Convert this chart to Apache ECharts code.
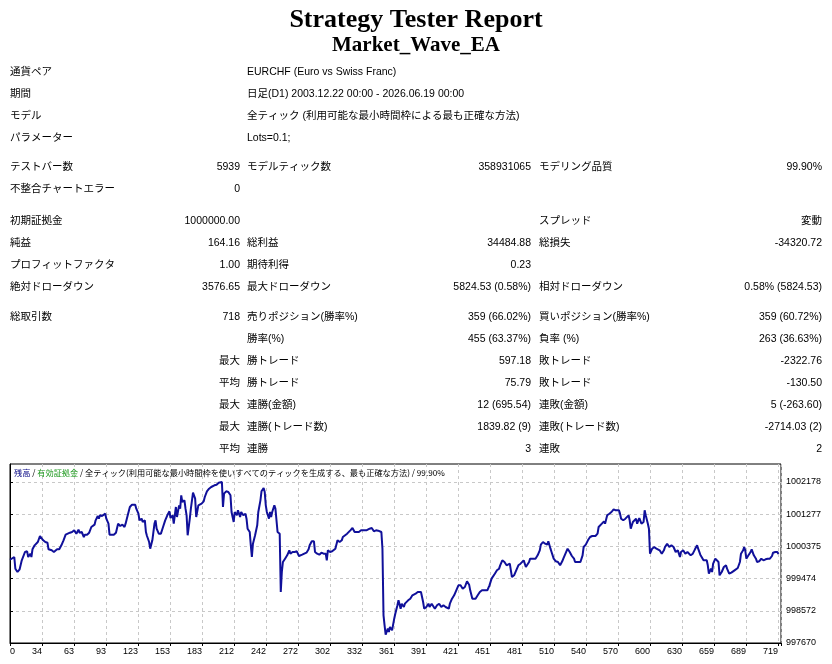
<!DOCTYPE html>
<html>
<head>
<meta charset="utf-8">
<title>Strategy Tester Report</title>
<script src="https://cdn.jsdelivr.net/npm/echarts@6/dist/echarts.min.js"></script>
<style>
html, body { margin: 0; padding: 0; background: #fff; }
#chart { width: 832px; height: 664px; }
</style>
</head>
<body>
<div id="chart"></div>
<script>
// report header
const reportTitle = 'Strategy Tester Report';
const expertName = 'Market_Wave_EA';

const infoRows = [
    ['通貨ペア', 'EURCHF (Euro vs Swiss Franc)'],
    ['期間', '日足(D1) 2003.12.22 00:00 - 2026.06.19 00:00'],
    ['モデル', '全ティック (利用可能な最小時間枠による最も正確な方法)'],
    ['パラメーター', 'Lots=0.1;']
];

// label, value, label, value, label, value
const statRows = [
    ['テストバー数', '5939', 'モデルティック数', '358931065', 'モデリング品質', '99.90%'],
    ['不整合チャートエラー', '0', '', '', '', ''],
    ['初期証拠金', '1000000.00', '', '', 'スプレッド', '変動'],
    ['純益', '164.16', '総利益', '34484.88', '総損失', '-34320.72'],
    ['プロフィットファクタ', '1.00', '期待利得', '0.23', '', ''],
    ['絶対ドローダウン', '3576.65', '最大ドローダウン', '5824.53 (0.58%)', '相対ドローダウン', '0.58% (5824.53)'],
    ['総取引数', '718', '売りポジション(勝率%)', '359 (66.02%)', '買いポジション(勝率%)', '359 (60.72%)'],
    ['', '', '勝率(%)', '455 (63.37%)', '負率 (%)', '263 (36.63%)'],
    ['', '最大', '勝トレード', '597.18', '敗トレード', '-2322.76'],
    ['', '平均', '勝トレード', '75.79', '敗トレード', '-130.50'],
    ['', '最大', '連勝(金額)', '12 (695.54)', '連敗(金額)', '5 (-263.60)'],
    ['', '最大', '連勝(トレード数)', '1839.82 (9)', '連敗(トレード数)', '-2714.03 (2)'],
    ['', '平均', '連勝', '3', '連敗', '2']
];

// chart caption
const captionBalance = '残高';
const captionEquity = '有効証拠金';
const captionRest = '全ティック(利用可能な最小時間枠を使いすべてのティックを生成する、最も正確な方法) / 99.90%';

// axes
const xTickLabels = ['0', '34', '63', '93', '123', '153', '183', '212', '242', '272', '302', '332', '361',
    '391', '421', '451', '481', '510', '540', '570', '600', '630', '659', '689', '719'];
const yTickValues = [997670, 998572, 999474, 1000375, 1001277, 1002178];

// balance curve (trade number, balance)
const trades = [
    0, 4, 5, 7, 9, 11, 12, 14, 16, 17, 19, 20, 21, 23, 26, 28, 29, 31, 33, 35,
    36, 39, 41, 42, 44, 46, 48, 50, 52, 54, 56, 58, 60, 62, 64, 65, 67, 69, 70, 72,
    74, 76, 79, 80, 82, 83, 84, 86, 89, 90, 92, 93, 95, 97, 99, 101, 103, 105, 107, 108,
    110, 112, 114, 117, 118, 120, 121, 123, 124, 126, 127, 128, 130, 131, 133, 135, 136, 137, 139, 141,
    143, 145, 147, 149, 150, 152, 153, 155, 156, 158, 159, 160, 161, 163, 164, 165, 166, 168, 169, 170,
    171, 173, 174, 176, 177, 179, 181, 182, 184, 186, 188, 191, 193, 195, 196, 198, 199, 200, 202, 204,
    206, 207, 209, 210, 212, 213, 215, 216, 218, 220, 221, 222, 224, 225, 226, 227, 229, 231, 232, 234,
    235, 237, 238, 239, 240, 242, 243, 244, 245, 247, 248, 249, 250, 252, 253, 254, 255, 257, 259, 261,
    262, 264, 266, 268, 270, 273, 274, 277, 279, 280, 282, 284, 285, 287, 289, 291, 293, 295, 296, 297,
    299, 301, 302, 304, 306, 308, 310, 311, 315, 318, 320, 322, 323, 326, 328, 330, 333, 336, 338, 340,
    342, 344, 347, 348, 349, 350, 351, 353, 354, 355, 357, 359, 360, 362, 363, 365, 366, 368, 369, 372,
    374, 376, 379, 381, 384, 386, 387, 389, 391, 392, 394, 397, 399, 401, 403, 405, 407, 410, 411, 413,
    415, 417, 419, 421, 423, 425, 427, 429, 430, 432, 433, 435, 437, 439, 441, 443, 444, 446, 448, 450,
    453, 455, 457, 458, 460, 462, 464, 467, 468, 469, 471, 473, 475, 477, 478, 480, 482, 483, 485, 486,
    488, 489, 491, 493, 495, 496, 498, 500, 502, 503, 505, 506, 508, 510, 512, 514, 516, 517, 519, 521,
    523, 525, 527, 528, 530, 533, 535, 536, 538, 540, 542, 544, 547, 549, 550, 553, 555, 556, 558, 560,
    562, 564, 566, 569, 570, 571, 573, 575, 576, 578, 579, 580, 582, 583, 585, 586, 588, 590, 592, 593,
    594, 596, 597, 598, 600, 602, 604, 607, 609, 611, 612, 614, 616, 618, 620, 622, 624, 625, 626, 627,
    629, 631, 633, 636, 638, 640, 642, 643, 645, 646, 648, 649, 651, 652, 653, 655, 656, 657, 659, 660,
    662, 663, 664, 665, 667, 669, 670, 672, 674, 675, 677, 678, 680, 682, 683, 685, 686, 687, 688, 690,
    692, 693, 695, 697, 698, 700, 702, 704, 706, 708, 710, 712, 713, 715, 717, 718
];
const balance = [
    1000000, 1000078, 999751, 999658, 999733, 999985, 1000031, 1000218, 1000237, 1000078,
    1000171, 1000078, 1000293, 1000405, 1000498, 1000666, 1000685, 1000545, 1000498, 1000479,
    1000293, 1000265, 1000218, 1000171, 1000293, 1000293, 1000405, 1000545, 1000703, 1000731,
    1000759, 1000778, 1000825, 1000731, 1000843, 1000759, 1000778, 1000638, 1000703, 1000703,
    1000759, 1000918, 1000983, 1001105, 1001226, 1001151, 1001245, 1001226, 1001291, 1001151,
    1001011, 1000703, 1000703, 1000703, 1000759, 1001011, 1000946, 1000983, 1000918, 1001011,
    1001245, 1001478, 1001543, 1001543, 1001431, 1001291, 1001105, 1001151, 1001058, 1001105,
    1000778, 1000666, 1000498, 1000311, 1000545, 1001011, 1001105, 1000871, 1000731, 1000731,
    1000918, 1001105, 1001245, 1001357, 1001170, 1001245, 1001011, 1001478, 1001198, 1001525,
    1001431, 1001805, 1001618, 1001665, 1001431, 1001245, 1000685, 1001151, 1001431, 1001385,
    1001879, 1001711, 1001198, 1001525, 1001478, 1001571, 1001637, 1001758, 1001917, 1001991,
    1002038, 1002085, 1002103, 1002159, 1002159, 1002178, 1001478, 1001851, 1001917, 1001898,
    1001805, 1001338, 1001058, 1001338, 1001245, 1001385, 1001198, 1001338, 1001245, 1001291,
    1001151, 1000871, 1000778, 1000405, 1000078, 1000451, 1000685, 1000965, 1001338, 1001665,
    1001917, 1002010, 1001898, 1001525, 1001338, 1001151, 1001338, 1001198, 1001338, 1001525,
    1001431, 1001385, 1000778, 1000731, 999098, 999658, 999938, 1000031, 1000125, 1000265,
    1000171, 1000218, 1000218, 1000237, 1000106, 1000143, 1000171, 1000199, 1000293, 1000405,
    1000517, 1000517, 1000218, 1000171, 1000143, 1000199, 1000171, 1000171, 999985, 1000265,
    1000218, 1000237, 1000265, 1000311, 1000545, 1000498, 1000545, 1000638, 1000731, 1000825,
    1000890, 1000778, 1000825, 1000778, 1000825, 1000825, 1000825, 1000871, 1000890, 1000797,
    1000825, 1000815, 1000778, 1000311, 998445, 998165, 997904, 998071, 997978, 998118,
    998025, 998351, 998491, 998725, 998865, 998631, 998771, 998678, 998771, 998865,
    998911, 999005, 999051, 999098, 999098, 998818, 998631, 998678, 998771, 998678,
    998771, 998631, 998725, 998771, 998678, 998725, 998678, 998631, 998771, 998911,
    999005, 999145, 999285, 999285, 999191, 999238, 999397, 999303, 999145, 998911,
    998865, 998911, 999005, 999098, 999145, 999145, 999098, 999145, 999285, 999472,
    999611, 999705, 999751, 999845, 999985, 999938, 999845, 999891, 999705, 999518,
    999565, 999705, 999845, 999891, 999938, 999985, 999798, 999751, 999938, 1000031,
    1000031, 1000078, 1000031, 1000125, 1000265, 1000423, 1000498, 1000451, 1000423, 1000517,
    1000311, 1000218, 1000031, 999957, 999938, 999845, 999957, 1000031, 1000171, 1000311,
    1000218, 1000106, 1000031, 999938, 999938, 999938, 1000125, 1000358, 1000423, 1000545,
    1000638, 1000666, 1000666, 1000731, 1000918, 1001011, 1001077, 1001011, 1001245, 1001291,
    1001338, 1001413, 1001385, 1001385, 1001291, 1001151, 1001105, 1001151, 1001198, 1001245,
    1001105, 1000871, 1001058, 1001011, 1001151, 1001011, 1001170, 1001011, 1001058, 1001385,
    1001245, 1001011, 1000871, 1000171, 1000311, 1000358, 1000311, 1000265, 1000171, 1000265,
    1000358, 1000451, 1000358, 1000405, 1000358, 1000218, 1000265, 1000171, 1000078, 1000218,
    1000265, 1000171, 1000218, 1000125, 1000171, 1000293, 1000405, 1000311, 1000143, 1000125,
    999985, 1000031, 999985, 999845, 999611, 999751, 999658, 999891, 1000031, 1000078,
    999938, 999565, 999518, 999658, 999798, 999845, 999751, 999611, 999639, 999611,
    999705, 999733, 999770, 999938, 1000171, 1000265, 1000358, 1000265, 1000031, 1000125,
    1000218, 1000293, 1000125, 1000031, 999938, 999957, 1000031, 999985, 1000013, 1000031,
    1000031, 1000106, 1000199, 1000218, 1000218, 1000164
];

// layout
const FONT = '"Liberation Sans", "Noto Sans CJK JP", sans-serif';
const CJK = '"Noto Sans CJK JP", "Liberation Sans", sans-serif';
const infoY = [72, 94, 116, 138];
const statY = [167, 189, 221, 243, 265, 287, 317, 339, 361, 383, 405, 427, 449];
const statCols = [[10, 'left'], [240, 'right'], [247, 'left'], [531, 'right'], [539, 'left'], [822, 'right']];

let graphic = [];

function addText(text, x, y, align, style) {
    graphic.push({
        type: 'text',
        x: x,
        y: y,
        silent: true,
        style: Object.assign({
            text: text,
            fontFamily: FONT,
            fontSize: 10.5,
            fill: '#000',
            align: align,
            verticalAlign: 'middle'
        }, style || {})
    });
}

addText(reportTitle, 416, 20, 'center', {fontFamily: '"Liberation Serif", serif', fontWeight: 'bold', fontSize: 26});
addText(expertName, 416, 46, 'center', {fontFamily: '"Liberation Serif", serif', fontWeight: 'bold', fontSize: 21});

infoRows.forEach((row, i) => {
    addText(row[0], 10, infoY[i], 'left');
    addText(row[1], 247, infoY[i], 'left');
});

statRows.forEach((row, i) => {
    row.forEach((cell, j) => {
        if (cell) addText(cell, statCols[j][0], statY[i], statCols[j][1]);
    });
});

// caption inside the plot
graphic.push({
    type: 'text',
    x: 14,
    y: 473,
    silent: true,
    z: 10,
    style: {
        text: '{b|' + captionBalance + '}{s| / }{g|' + captionEquity + '}{s| / ' + captionRest + '}',
        fontFamily: CJK,
        fontSize: 8.2,
        verticalAlign: 'middle',
        rich: {
            b: {fill: '#000080', fontFamily: CJK, fontSize: 8.2},
            g: {fill: '#1f9a1f', fontFamily: CJK, fontSize: 8.2},
            s: {fill: '#000', fontFamily: CJK, fontSize: 8.2}
        }
    }
});

const seriesData = trades.map((t, i) => [t, balance[i]]);

const gridLine = {show: true, lineStyle: {color: '#c8c8c8', type: [3, 3], width: 1}};

const option = {
    animation: false,
    backgroundColor: '#fff',
    graphic: graphic,
    grid: {
        left: 10,
        right: 51,
        top: 464,
        bottom: 21,
        show: true,
        borderColor: '#000',
        borderWidth: 1
    },
    xAxis: {
        type: 'value',
        min: 0,
        max: 720.4,
        interval: 29.9,
        axisLine: {show: true, lineStyle: {color: '#000', width: 1}},
        axisTick: {show: true, length: 3, lineStyle: {color: '#000'}},
        splitLine: gridLine,
        axisLabel: {
            color: '#000',
            fontFamily: FONT,
            fontSize: 9,
            margin: 4,
            align: 'right',
            alignMinLabel: 'left',
            formatter: (v, i) => xTickLabels[i] !== undefined ? xTickLabels[i] : ''
        }
    },
    yAxis: {
        type: 'value',
        position: 'right',
        min: 997670,
        max: 1002682,
        axisLine: {show: true, lineStyle: {color: '#000', width: 1}},
        axisTick: {show: true, length: 3, lineStyle: {color: '#000'}, customValues: yTickValues},
        splitLine: gridLine,
        axisLabel: {
            color: '#000',
            fontFamily: FONT,
            fontSize: 9,
            margin: 5,
            customValues: yTickValues,
            formatter: v => String(Math.round(v))
        }
    },
    series: [{
        name: captionBalance,
        type: 'line',
        data: seriesData,
        showSymbol: false,
        silent: true,
        clip: true,
        lineStyle: {color: '#10109a', width: 2}
    }]
};

let chart = echarts.init(document.getElementById('chart'));
chart.setOption(option);
</script>
</body>
</html>
